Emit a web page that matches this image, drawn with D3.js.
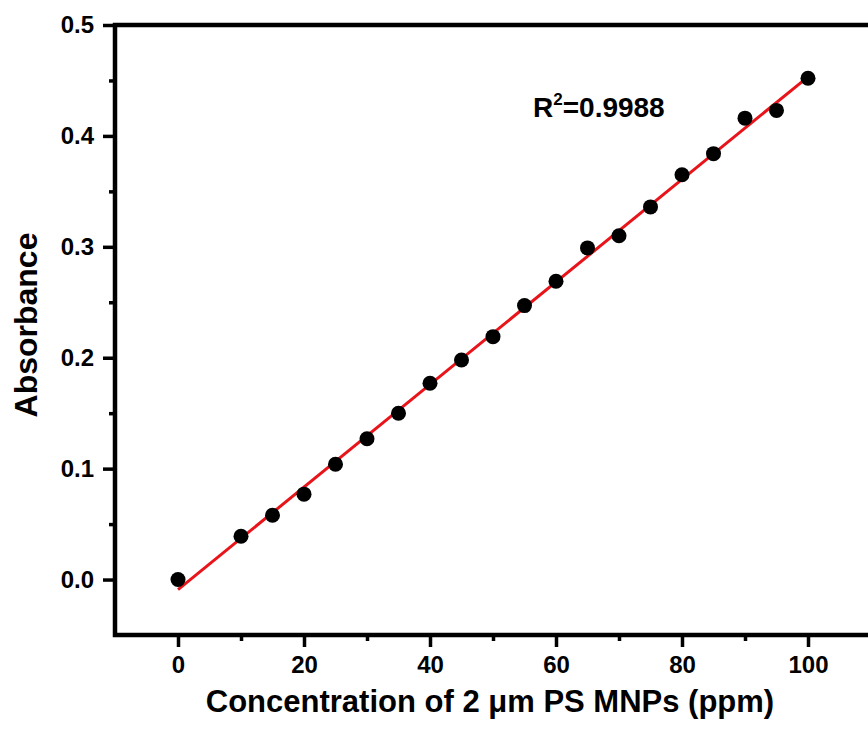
<!DOCTYPE html>
<html>
<head>
<meta charset="utf-8">
<script src="https://cdn.jsdelivr.net/npm/d3@7"></script>
<style>
  body { margin: 0; background: #fff; }
  svg text { font-family: "Liberation Sans", Arial, sans-serif; font-weight: bold; fill: #000; }
</style>
</head>
<body>
<div id="chart"></div>
<script>
// concentration (ppm) and measured absorbance
var concentration = [0, 10, 15, 20, 25, 30, 35, 40, 45, 50, 55, 60, 65, 70, 75, 80, 85, 90, 95, 100];
var absorbance = [0.000, 0.039, 0.058, 0.077, 0.104, 0.127, 0.150, 0.177, 0.198, 0.219, 0.247, 0.269, 0.299, 0.310, 0.336, 0.365, 0.384, 0.416, 0.423, 0.452];
var xTicks = [0, 20, 40, 60, 80, 100];
var xMinorTicks = [10, 30, 50, 70, 90];
var yTicks = [0.0, 0.1, 0.2, 0.3, 0.4, 0.5];
var yMinorTicks = [0.05, 0.15, 0.25, 0.35, 0.45];
var rSquaredText = "0.9988";

var width = 868, height = 729;
var plotLeft = 115, plotTop = 25, plotBottom = 635, plotRight = 871;

var svg = d3.select("#chart").append("svg")
  .attr("width", width)
  .attr("height", height);

var x = d3.scaleLinear().domain([-10, 110]).range([plotLeft, plotRight]);
var y = d3.scaleLinear().domain([-0.05, 0.5]).range([plotBottom, plotTop]);

// least squares fit
var n = concentration.length;
var mx = d3.mean(concentration), my = d3.mean(absorbance);
var sxy = 0, sxx = 0;
for (var i = 0; i < n; i++) {
  sxy += (concentration[i] - mx) * (absorbance[i] - my);
  sxx += (concentration[i] - mx) * (concentration[i] - mx);
}
var slope = sxy / sxx;
var intercept = my - slope * mx;

// axes
var xAxis = d3.axisBottom(x).tickValues(xTicks).tickSize(12).tickPadding(9).tickFormat(d3.format("d"));
var xMinor = d3.axisBottom(x).tickValues(xMinorTicks).tickSize(6).tickFormat("");
var yAxis = d3.axisLeft(y).tickValues(yTicks).tickSize(12).tickPadding(9).tickFormat(d3.format(".1f"));
var yMinor = d3.axisLeft(y).tickValues(yMinorTicks).tickSize(6).tickFormat("");

function styleAxis(g) {
  g.select(".domain").remove();
  g.selectAll(".tick line").attr("stroke", "#000").attr("stroke-width", 3.5);
  g.selectAll(".tick text").style("font-size", "24px");
}

svg.append("g").attr("transform", "translate(0," + plotBottom + ")").call(xMinor).call(styleAxis);
svg.append("g").attr("transform", "translate(0," + plotBottom + ")").call(xAxis).call(styleAxis);
svg.append("g").attr("transform", "translate(" + plotLeft + ",0)").call(yMinor).call(styleAxis);
svg.append("g").attr("transform", "translate(" + plotLeft + ",0)").call(yAxis).call(styleAxis);

// frame
svg.append("rect")
  .attr("x", plotLeft).attr("y", plotTop)
  .attr("width", plotRight - plotLeft).attr("height", plotBottom - plotTop)
  .attr("fill", "none").attr("stroke", "#000").attr("stroke-width", 4.5);

// fit line
svg.append("line")
  .attr("x1", x(0)).attr("y1", y(intercept))
  .attr("x2", x(100)).attr("y2", y(intercept + slope * 100))
  .attr("stroke", "#e8141a").attr("stroke-width", 3);

// points
svg.selectAll("circle.pt")
  .data(concentration)
  .enter().append("circle")
  .attr("class", "pt")
  .attr("cx", function (d) { return x(d); })
  .attr("cy", function (d, i) { return y(absorbance[i]); })
  .attr("r", 7.5)
  .attr("fill", "#000");

// R^2 label
var rt = svg.append("text").attr("x", 533).attr("y", 117).style("font-size", "28px");
rt.append("tspan").text("R");
rt.append("tspan").attr("dy", -12).style("font-size", "17px").text("2");
rt.append("tspan").attr("dy", 12).text("=" + rSquaredText);

// axis titles
svg.append("text")
  .attr("x", 490).attr("y", 712)
  .attr("text-anchor", "middle")
  .style("font-size", "31px")
  .text("Concentration of 2 μm PS MNPs (ppm)");

svg.append("text")
  .attr("transform", "translate(37,325) rotate(-90)")
  .attr("text-anchor", "middle")
  .style("font-size", "32px")
  .text("Absorbance");
</script>
</body>
</html>
